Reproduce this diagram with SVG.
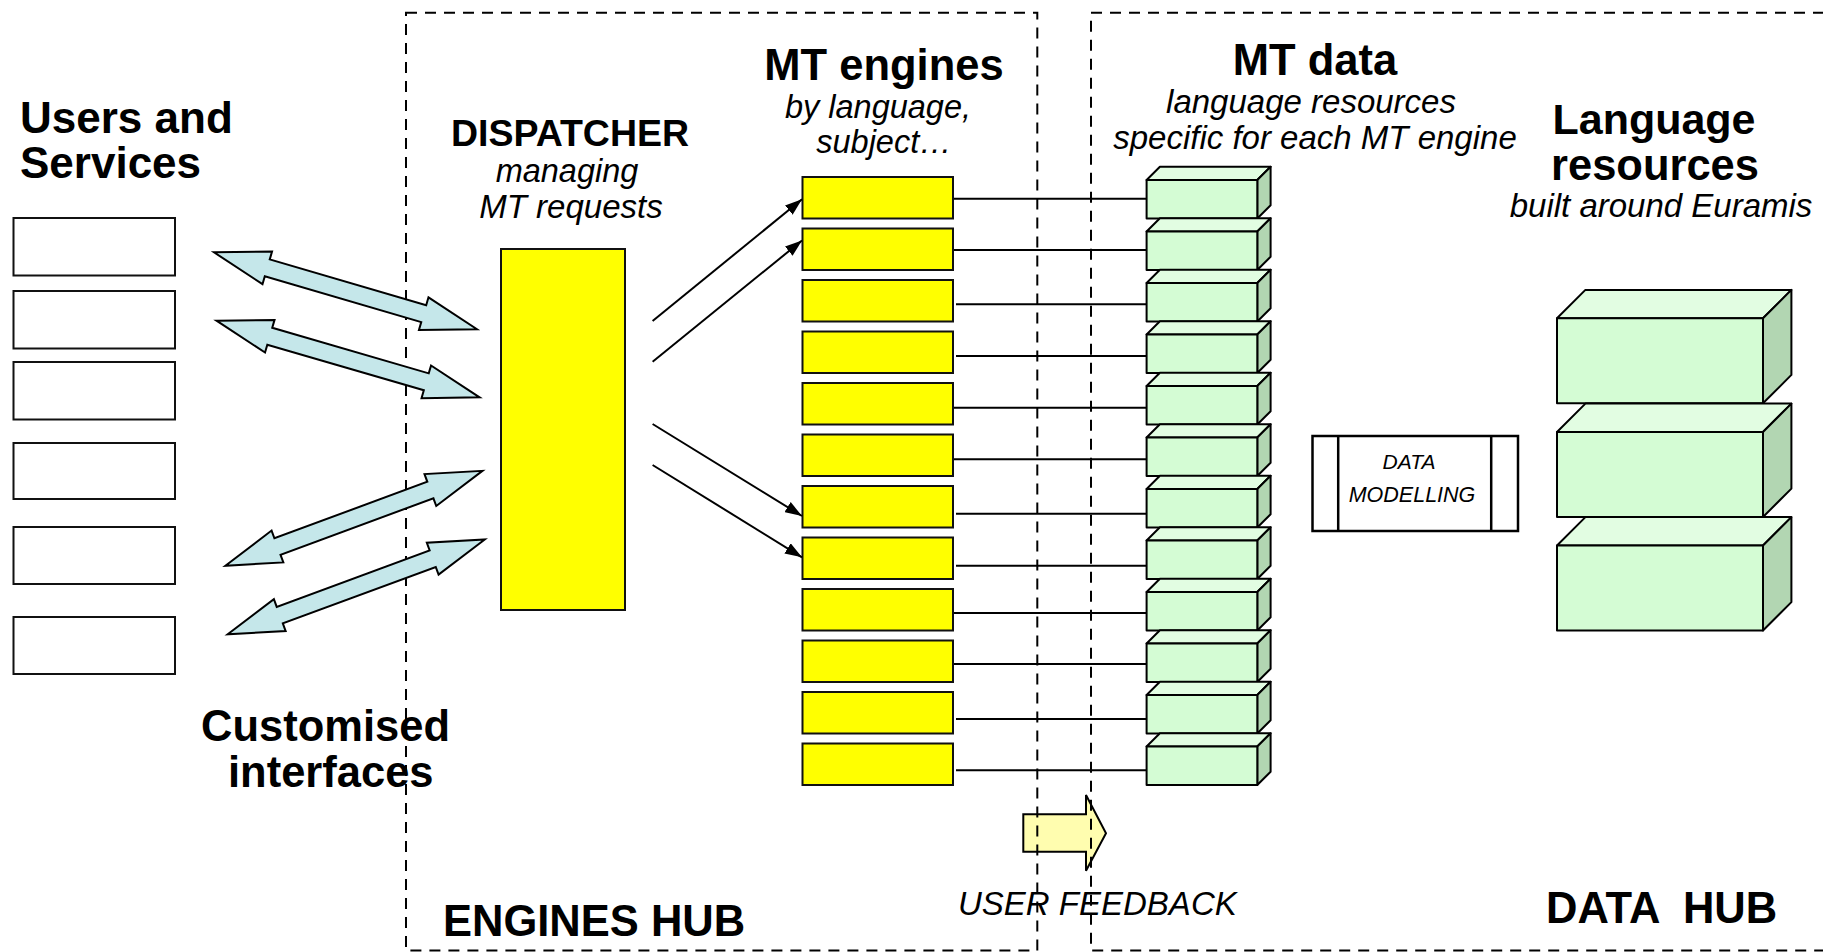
<svg xmlns="http://www.w3.org/2000/svg" xmlns:xlink="http://www.w3.org/1999/xlink" width="1823" height="952" viewBox="0 0 1823 952">
<style>
.b{font-family:"Liberation Sans",Arial,sans-serif;font-weight:bold;fill:#000}
.i{font-family:"Liberation Sans",Arial,sans-serif;font-style:italic;fill:#000}
.hub{fill:none;stroke:#000;stroke-width:2;stroke-dasharray:11 8}
.usr{fill:#fff;stroke:#111;stroke-width:2}
.eng{fill:#ffff00;stroke:#111;stroke-width:2}
.gf{fill:#d4fcd4;stroke:#000;stroke-width:2;stroke-linejoin:round}
.gt{fill:#e2fde2;stroke:#000;stroke-width:2;stroke-linejoin:round}
.gs{fill:#b2d6b2;stroke:#000;stroke-width:2;stroke-linejoin:round}
.dbl{fill:#c5e7ea;stroke:#000;stroke-width:2;stroke-linejoin:miter}
.ln{stroke:#000;stroke-width:2;fill:none}
.ar{stroke:#000;stroke-width:2;fill:none;marker-end:url(#ah)}
</style>
<defs>
<marker id="ah" viewBox="0 0 17 12" refX="17" refY="6" markerWidth="17" markerHeight="12" markerUnits="userSpaceOnUse" orient="auto">
<path d="M0,0 L17,6 L0,12 z" fill="#000"/>
</marker>
<polygon id="darrow" class="dbl" points="0,0 55.5,-17 55.5,-8.8 218.5,-8.8 218.5,-17 274,0 218.5,17 218.5,8.8 55.5,8.8 55.5,17"/>
<g id="sbox">
<polygon class="gt" points="0,0 110.7,0 124,-13.3 13.3,-13.3"/>
<polygon class="gs" points="110.7,0 124,-13.3 124,25.2 110.7,38.5"/>
<rect class="gf" x="0" y="0" width="110.7" height="38.5"/>
</g>
<g id="bbox">
<polygon class="gt" points="0,0 206,0 234.4,-28.4 28.4,-28.4"/>
<polygon class="gs" points="206,0 234.4,-28.4 234.4,56.6 206,85"/>
<rect class="gf" x="0" y="0" width="206" height="85"/>
</g>
</defs>
<rect width="1823" height="952" fill="#fff"/>

<g id="feedback-arrow">
<polygon points="1023.3,814.3 1086,814.3 1086,795 1106,833.3 1086,870.7 1086,851.7 1023.3,851.7" fill="#fffdaf" stroke="#000" stroke-width="2"/>
</g>

<g id="engines-hub">
<rect class="hub" x="406" y="12.7" width="631.3" height="937.8"/>
<text class="b" x="443" y="936" font-size="43.5">ENGINES HUB</text>
</g>
<g id="data-hub">
<path class="hub" d="M1900,12.7 H1091 V950.5 H1900"/>
<text class="b" x="1546" y="923" font-size="43.5" xml:space="preserve">DATA  HUB</text>
</g>

<g id="users">
<text class="b" x="20" y="133" font-size="44">Users and</text>
<text class="b" x="20" y="178" font-size="44">Services</text>
<rect class="usr" x="13.5" y="218" width="161.5" height="57.5"/>
<rect class="usr" x="13.5" y="291" width="161.5" height="57.5"/>
<rect class="usr" x="13.5" y="362" width="161.5" height="57.5"/>
<rect class="usr" x="13.5" y="443" width="161.5" height="56"/>
<rect class="usr" x="13.5" y="527" width="161.5" height="57"/>
<rect class="usr" x="13.5" y="617" width="161.5" height="57"/>
</g>

<g id="interfaces-label">
<text class="b" x="201" y="740.7" font-size="43.5">Customised</text>
<text class="b" x="228" y="786.7" font-size="43.5">interfaces</text>
</g>

<g id="dispatcher">
<text class="b" x="570" y="146" font-size="37.5" text-anchor="middle">DISPATCHER</text>
<text class="i" x="567" y="182" font-size="32.5" text-anchor="middle">managing</text>
<text class="i" x="571" y="218" font-size="33" text-anchor="middle">MT requests</text>
<rect class="eng" x="501" y="249" width="124" height="361"/>
</g>

<g id="mt-engines">
<text class="b" x="884" y="80" font-size="43.5" text-anchor="middle">MT engines</text>
<text class="i" x="878" y="118" font-size="32.5" text-anchor="middle">by language,</text>
<text class="i" x="884" y="153" font-size="32.5" text-anchor="middle">subject…</text>
<rect class="eng" x="802.5" y="177" width="150.5" height="41.5"/>
<rect class="eng" x="802.5" y="228.5" width="150.5" height="41.5"/>
<rect class="eng" x="802.5" y="280" width="150.5" height="41.5"/>
<rect class="eng" x="802.5" y="331.5" width="150.5" height="41.5"/>
<rect class="eng" x="802.5" y="383" width="150.5" height="41.5"/>
<rect class="eng" x="802.5" y="434.5" width="150.5" height="41.5"/>
<rect class="eng" x="802.5" y="486" width="150.5" height="41.5"/>
<rect class="eng" x="802.5" y="537.5" width="150.5" height="41.5"/>
<rect class="eng" x="802.5" y="589" width="150.5" height="41.5"/>
<rect class="eng" x="802.5" y="640.5" width="150.5" height="41.5"/>
<rect class="eng" x="802.5" y="692" width="150.5" height="41.5"/>
<rect class="eng" x="802.5" y="743.5" width="150.5" height="41.5"/>
</g>

<g id="connectors">
<use xlink:href="#darrow" href="#darrow" transform="translate(214,252.3) rotate(16.3)"/>
<use xlink:href="#darrow" href="#darrow" transform="translate(216.5,320.7) rotate(16.24)"/>
<use xlink:href="#darrow" href="#darrow" transform="translate(225.4,565.7) rotate(-20.26)"/>
<use xlink:href="#darrow" href="#darrow" transform="translate(227.7,634.3) rotate(-20.24)"/>
<line class="ar" x1="652.6" y1="321" x2="802" y2="199.3"/>
<line class="ar" x1="652.6" y1="361.7" x2="802" y2="240.5"/>
<line class="ar" x1="652.6" y1="424" x2="802" y2="516"/>
<line class="ar" x1="652.6" y1="465" x2="802" y2="557.3"/>
<line class="ln" x1="954" y1="198.7" x2="1147" y2="198.7"/>
<line class="ln" x1="954" y1="250" x2="1147" y2="250"/>
<line class="ln" x1="956" y1="304.3" x2="1147" y2="304.3"/>
<line class="ln" x1="956" y1="356" x2="1147" y2="356"/>
<line class="ln" x1="954" y1="407.7" x2="1147" y2="407.7"/>
<line class="ln" x1="954" y1="459.3" x2="1147" y2="459.3"/>
<line class="ln" x1="956" y1="513.7" x2="1147" y2="513.7"/>
<line class="ln" x1="956" y1="565.7" x2="1147" y2="565.7"/>
<line class="ln" x1="954" y1="613" x2="1147" y2="613"/>
<line class="ln" x1="954" y1="664" x2="1147" y2="664"/>
<line class="ln" x1="956" y1="719" x2="1147" y2="719"/>
<line class="ln" x1="956" y1="770.3" x2="1147" y2="770.3"/>
</g>

<g id="mt-data">
<text class="b" x="1315" y="75" font-size="43.5" text-anchor="middle">MT data</text>
<text class="i" x="1311" y="113" font-size="33" text-anchor="middle">language resources</text>
<text class="i" x="1315" y="148.5" font-size="33" text-anchor="middle">specific for each MT engine</text>
<use xlink:href="#sbox" href="#sbox" x="1146.6" y="180"/>
<use xlink:href="#sbox" href="#sbox" x="1146.6" y="231.5"/>
<use xlink:href="#sbox" href="#sbox" x="1146.6" y="283"/>
<use xlink:href="#sbox" href="#sbox" x="1146.6" y="334.5"/>
<use xlink:href="#sbox" href="#sbox" x="1146.6" y="386"/>
<use xlink:href="#sbox" href="#sbox" x="1146.6" y="437.5"/>
<use xlink:href="#sbox" href="#sbox" x="1146.6" y="489"/>
<use xlink:href="#sbox" href="#sbox" x="1146.6" y="540.5"/>
<use xlink:href="#sbox" href="#sbox" x="1146.6" y="592"/>
<use xlink:href="#sbox" href="#sbox" x="1146.6" y="643.5"/>
<use xlink:href="#sbox" href="#sbox" x="1146.6" y="695"/>
<use xlink:href="#sbox" href="#sbox" x="1146.6" y="746.5"/>
</g>

<g id="data-modelling">
<rect x="1312.5" y="436" width="205.5" height="95" fill="#fff" stroke="#000" stroke-width="2.5"/>
<line x1="1338.2" y1="436" x2="1338.2" y2="531" stroke="#000" stroke-width="2.5"/>
<line x1="1491.2" y1="436" x2="1491.2" y2="531" stroke="#000" stroke-width="2.5"/>
<text class="i" x="1409" y="468.5" font-size="21" text-anchor="middle">DATA</text>
<text class="i" x="1412" y="502" font-size="21.5" text-anchor="middle">MODELLING</text>
</g>

<g id="language-resources">
<text class="b" x="1654" y="134" font-size="43" text-anchor="middle">Language</text>
<text class="b" x="1655" y="180" font-size="43.5" text-anchor="middle">resources</text>
<text class="i" x="1661" y="216.5" font-size="33" text-anchor="middle">built around Euramis</text>
<use xlink:href="#bbox" href="#bbox" x="1557" y="318.3"/>
<use xlink:href="#bbox" href="#bbox" x="1557" y="432"/>
<use xlink:href="#bbox" href="#bbox" x="1557" y="545.5"/>
</g>

<g id="feedback-label">
<text class="i" x="958" y="915" font-size="33">USER FEEDBACK</text>
</g>
</svg>
